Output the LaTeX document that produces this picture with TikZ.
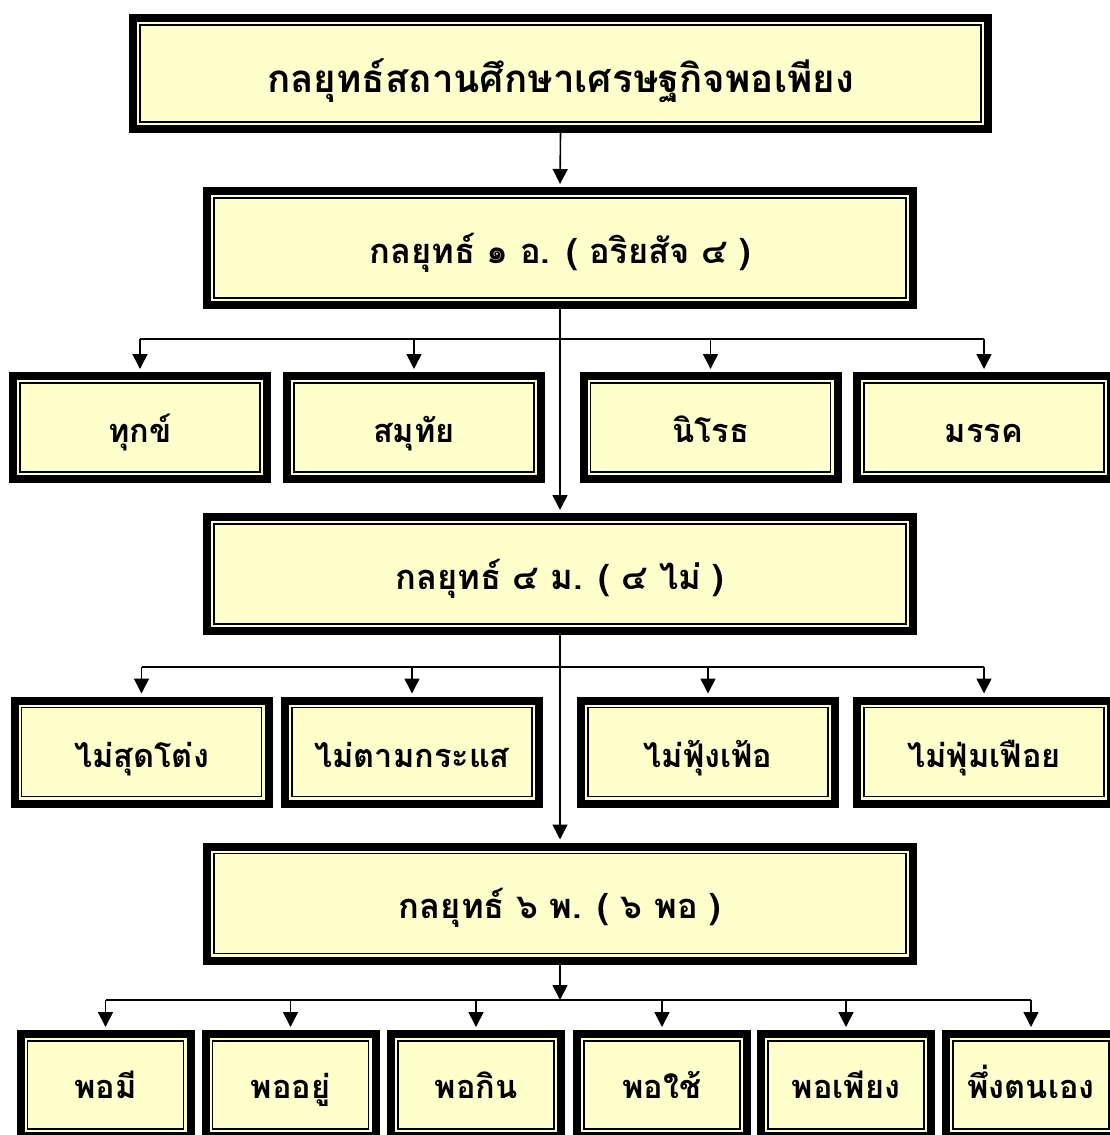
\documentclass[tikz,border=0pt]{standalone}
\usepackage{fontspec}
\newfontfamily\thaifont[Script=Thai]{Loma}
\usetikzlibrary{arrows.meta}

\definecolor{boxfill}{HTML}{FFFFCC}

\tikzset{
  box/.style={draw=black, line width=8pt, fill=boxfill, inner sep=0pt,
    font=\thaifont\bfseries\fontsize{34.5}{40}\selectfont,
    text height=32pt, text depth=2pt,
    path picture={\draw[line width=1.8pt]
      ([shift={(7pt,7pt)}]path picture bounding box.south west) rectangle
      ([shift={(-7pt,-7pt)}]path picture bounding box.north east);}},
  wide/.style={box, minimum width=706pt, minimum height=114pt},
  four/.style={box, minimum width=254pt, minimum height=103pt,
    font=\thaifont\bfseries\fontsize{32.5}{38}\selectfont},
  six/.style={four, minimum width=170pt, minimum height=102pt, text height=28pt},
  arr/.style={line width=1.6pt, -{Triangle[width=15pt,length=15pt]}, shorten >=3pt},
  bus/.style={line width=1.6pt}
}

\begin{document}
\begin{tikzpicture}[x=1pt, y=-1pt]
  \useasboundingbox (0,0) rectangle (1110,1135);

  \node[box, minimum width=855pt, minimum height=111pt, text height=40pt, text depth=2pt,
    font=\thaifont\bfseries\fontsize{38.5}{44}\selectfont] (plan) at (560.5,73.5) {กลยุทธ์สถานศึกษาเศรษฐกิจพอเพียง};
  \node[wide] (ao) at (560,248) {กลยุทธ์ ๑ อ. ( อริยสัจ ๔ )};
  \node[wide] (mo) at (560,574) {กลยุทธ์ ๔ ม. ( ๔ ไม่ )};
  \node[wide] (pho) at (560,903.5) {กลยุทธ์ ๖ พ. ( ๖ พอ )};

  % อริยสัจ ๔
  \node[four] (dukkha) at (140,427.5) {ทุกข์};
  \node[four] (samuthai) at (414,427.5) {สมุทัย};
  \node[four] (nirot) at (710.5,427.5) {นิโรธ};
  \node[four] (mak) at (984,427.5) {มรรค};

  % ๔ ไม่
  \node[four] (mai1) at (141.5,752) {ไม่สุดโต่ง};
  \node[four] (mai2) at (412,752) {ไม่ตามกระแส};
  \node[four] (mai3) at (708,752) {ไม่ฟุ้งเฟ้อ};
  \node[four] (mai4) at (984,752) {ไม่ฟุ่มเฟือย};

  % ๖ พอ
  \node[six] (pho1) at (105.5,1085) {พอมี};
  \node[six] (pho2) at (290.5,1085) {พออยู่};
  \node[six] (pho3) at (476,1085) {พอกิน};
  \node[six] (pho4) at (662,1085) {พอใช้};
  \node[six] (pho5) at (846,1085) {พอเพียง};
  \node[six] (pho6) at (1031,1085) {พึ่งตนเอง};

  \coordinate (bus1) at (0,339);
  \coordinate (bus2) at (0,667);
  \coordinate (bus3) at (0,1000);

  \draw[arr] (plan.south) -- (ao.north);
  \draw[arr] (ao.south) -- (mo.north);
  \draw[arr] (mo.south) -- (pho.north);
  \draw[arr, shorten >=0pt] (pho.south) -- (pho.south |- bus3);

  \draw[bus] (dukkha.north |- bus1) -- (mak.north |- bus1);
  \foreach \n in {dukkha,samuthai,nirot,mak}
    \draw[arr] (\n.north |- bus1) -- (\n.north);

  \draw[bus] (mai1.north |- bus2) -- (mai4.north |- bus2);
  \foreach \n in {mai1,mai2,mai3,mai4}
    \draw[arr] (\n.north |- bus2) -- (\n.north);

  \draw[bus] (pho1.north |- bus3) -- (pho6.north |- bus3);
  \foreach \n in {pho1,pho2,pho3,pho4,pho5,pho6}
    \draw[arr] (\n.north |- bus3) -- (\n.north);
\end{tikzpicture}
\end{document}
